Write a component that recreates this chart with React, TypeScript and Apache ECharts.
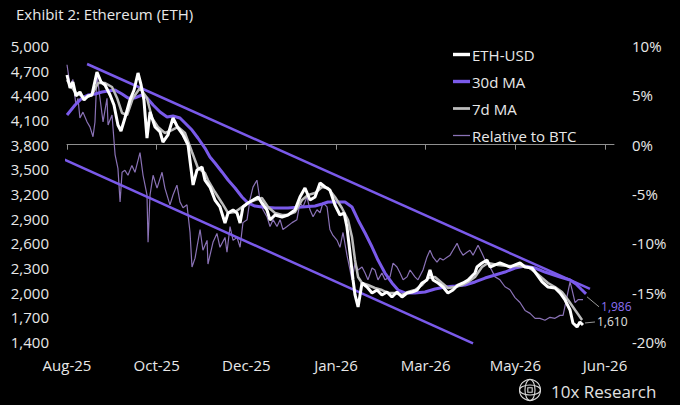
import React, { useEffect, useRef } from "react";
import * as echarts from "echarts";

// ---------- data ----------
const xTickDays = [0, 50, 100, 150, 200, 250, 300];
const xTickLabels = ["Aug-25", "Oct-25", "Dec-25", "Jan-26", "Mar-26", "May-26", "Jun-26"];
const priceTicks = [1400, 1700, 2000, 2300, 2600, 2900, 3200, 3500, 3800, 4100, 4400, 4700, 5000];
const pctTicks = [-20, -15, -10, -5, 0, 5, 10];

// [day since start, USD]
const ethUsd: [number, number][] = [
  [0, 4647], [1.7, 4489], [3.3, 4562], [5, 4392], [7.2, 4441], [9.5, 4343], [11.7, 4392], [13.9, 4404],
  [16.7, 4684], [19, 4562], [21.2, 4526], [24, 4404], [26.2, 4282], [28.4, 4039], [30.1, 3966], [32.3, 4124],
  [35.1, 4343], [37.4, 4465], [39.6, 4672], [41.3, 4526], [42.9, 4343], [44.6, 3881], [46.3, 4197], [49.1, 4015],
  [51.9, 3954], [53.5, 3832], [56.3, 3918], [59.1, 4124], [61.9, 4003], [64.7, 3918], [67.5, 3796], [69.1, 3516],
  [70.3, 3310], [72.5, 3492], [75.3, 3528], [76.9, 3370], [79.7, 3285], [82.5, 3127], [85.3, 3042], [88.1, 2847],
  [89.8, 2969], [92.6, 3005], [94.8, 2969], [96.5, 2847], [98.1, 3042], [100.9, 3091], [103.7, 3127], [106.5, 3164],
  [108.7, 3091], [111.5, 3005], [113.2, 2884], [116, 2945], [119.9, 2920], [123.2, 2945], [127.1, 3005], [129.9, 3164],
  [132.7, 3273], [135.5, 3127], [138.3, 3164], [141.1, 3334], [143.9, 3285], [146.6, 3249], [149.4, 3066], [152.2, 2945],
  [154.5, 2969], [156.1, 2799], [157.8, 2482], [159.5, 2154], [160.6, 1972], [162.3, 1826], [164.5, 2118], [167.3, 2069],
  [170.1, 1996], [172.9, 2032], [175.6, 1972], [178.4, 2008], [181.2, 1947], [184, 2008], [186.8, 1947], [189.6, 1996],
  [192.4, 2008], [195.2, 2032], [198, 2118], [200.7, 2154], [202.4, 2276], [204.1, 2154], [206.9, 2118], [209.7, 2069],
  [212.4, 1996], [215.2, 2032], [218, 2093], [220.8, 2118], [223.6, 2154], [227.5, 2239], [228.6, 2312], [231.4, 2361],
  [234.2, 2397], [235.9, 2312], [238.7, 2337], [241.4, 2361], [244.2, 2337], [247, 2312], [249.8, 2337], [252.6, 2361],
  [255.4, 2312], [259.3, 2300], [262.1, 2215], [264.9, 2130], [268.2, 2069], [272.1, 2057], [274.9, 1996], [277.7, 1911],
  [280.5, 1789], [282.1, 1631], [284.4, 1583], [286, 1643], [287.7, 1607],
];

const ma30: [number, number][] = [
  [0, 4161], [4.5, 4282], [8.4, 4368], [11.7, 4404], [15.6, 4416], [19.5, 4441], [22.9, 4453], [26.8, 4465],
  [30.7, 4416], [34, 4368], [37.9, 4368], [41.8, 4404], [44.6, 4368], [48, 4282], [51.9, 4197], [55.8, 4136],
  [59.1, 4149], [63, 4124], [65.8, 4064], [69.7, 3978], [73, 3881], [76.9, 3759], [79.7, 3650], [82.5, 3577],
  [86.4, 3468], [89.8, 3370], [93.7, 3273], [97.6, 3164], [100.9, 3091], [104.8, 3054], [108.7, 3042], [116, 3030],
  [123.2, 3030], [131, 3042], [138.3, 3054], [142.2, 3078], [145.5, 3103], [155, 3103], [158.9, 3042], [162.3, 2884],
  [166.2, 2726], [170.1, 2555], [173.4, 2397], [177.3, 2239], [181.2, 2118], [184.6, 2032], [188.5, 1996], [194, 1996],
  [199.6, 2008], [205.2, 2045], [210.8, 2069], [216.4, 2081], [221.9, 2093], [227.5, 2130], [233.1, 2178], [238.7, 2215],
  [244.2, 2251], [249.8, 2300], [255.4, 2324], [261, 2300], [266.5, 2251], [274.9, 2191], [280.5, 2154], [283.8, 2105],
  [286.6, 2045], [289.4, 1986],
];

const ma7: [number, number][] = [
  [0, 4586], [4.5, 4441], [10, 4368], [13.9, 4404], [17.3, 4550], [21.2, 4550], [25.1, 4501], [27.9, 4368],
  [30.7, 4185], [33.5, 4161], [36.8, 4368], [40.7, 4489], [44.6, 4368], [47.4, 4124], [50.7, 4015], [54.6, 3942],
  [58.5, 3978], [61.9, 4015], [65.8, 3942], [69.7, 3711], [73, 3516], [76.9, 3455], [78.6, 3370], [82.5, 3224],
  [86.4, 3091], [89.8, 2969], [93.7, 2981], [97.6, 3042], [100.9, 3091], [104.8, 3127], [108.7, 3151], [112.1, 3042],
  [116, 2969], [119.9, 2945], [123.2, 2945], [127.1, 2981], [131, 3127], [134.4, 3188], [138.3, 3212], [142.2, 3285],
  [145.5, 3273], [149.4, 3164], [153.3, 3030], [156.7, 2884], [158.9, 2677], [160.6, 2397], [162.3, 2191], [164.5, 2118],
  [167.8, 2093], [171.7, 2057], [175.6, 2032], [179, 1996], [182.9, 1996], [186.8, 1972], [190.1, 2008], [194, 2032],
  [198, 2093], [201.3, 2178], [205.2, 2191], [209.1, 2118], [212.4, 2057], [216.4, 2069], [220.3, 2093], [223.6, 2130],
  [227.5, 2191], [231.4, 2312], [234.7, 2361], [240.3, 2337], [245.9, 2324], [251.5, 2324], [257.1, 2312], [261, 2251],
  [264.9, 2178], [268.2, 2118], [272.1, 2069], [276, 2008], [279.4, 1911], [283.3, 1789], [287.2, 1668],
];

// relative performance vs BTC, %
const relBtc: [number, number][] = [
  [0, 8.1], [1.7, 6.0], [3.3, 6.6], [5, 4.0], [6.1, 4.7], [7.2, 2.7], [8.9, 3.3], [11.2, 2.3], [12.8, 1.8],
  [14.5, 0.8], [15.6, 2.3], [16.7, 7.1], [18.4, 4.7], [20.1, 2.3], [22.3, 4.7], [22.9, 2.0], [25.1, 3.0], [26.8, -1.0],
  [28.4, -2.4], [29.6, -5.8], [30.7, -2.8], [32.3, -2.6], [34, -3.1], [36.2, -2.1], [37.9, -2.8], [40.7, -0.8],
  [42.4, -3.1], [44.6, -5.1], [45.2, -9.9], [46.3, -5.1], [48, -3.1], [50.2, -4.4], [53, -2.8], [54.6, -4.4],
  [57.4, -6.1], [59.1, -5.1], [61.3, -4.1], [63, -5.8], [64.7, -6.4], [66.9, -6.1], [68.6, -8.9], [69.7, -12.4],
  [71.4, -11.5], [74.2, -8.6], [75.8, -10.7], [78.1, -9.7], [78.6, -12.1], [81.4, -9.9], [83.6, -9.0], [85.3, -10.4],
  [88.1, -9.4], [89.2, -10.9], [90.9, -8.3], [92.6, -9.7], [94.8, -9.4], [96.5, -10.4], [98.1, -7.9], [100.4, -7.6],
  [102, -5.6], [103.7, -4.3], [105.9, -3.6], [107.6, -5.6], [109.3, -6.6], [111.5, -7.3], [113.2, -8.3], [114.9, -7.6],
  [117.1, -8.3], [118.8, -7.6], [120.4, -8.6], [122.7, -8.3], [125.5, -7.9], [128.2, -7.6], [129.9, -5.9], [131.6, -6.3],
  [133.8, -5.3], [135.5, -6.6], [137.2, -7.3], [139.4, -6.6], [141.1, -6.9], [142.7, -5.9], [145, -6.3], [146.6, -8.6],
  [148.3, -9.2], [150.6, -9.7], [152.2, -10.4], [153.9, -8.9], [156.1, -11.2], [157.8, -12.7], [158.9, -13.7], [160.6, -12.0],
  [162.3, -12.7], [164.5, -12.4], [166.2, -13.0], [167.8, -13.7], [170.1, -12.5], [171.7, -12.7], [173.4, -13.7], [175.6, -13.0],
  [177.3, -13.7], [180.1, -13.4], [181.8, -12.0], [184, -12.4], [185.7, -13.0], [187.4, -13.7], [189.6, -13.4], [191.3, -12.7],
  [194, -13.4], [195.7, -13.7], [198.5, -12.7], [200.7, -11.4], [202.4, -10.7], [204.1, -11.4], [206.3, -11.9], [208, -11.5],
  [209.7, -11.7], [211.9, -11.4], [213.6, -11.2], [215.2, -10.7], [217.5, -10.0], [219.1, -10.7], [220.8, -11.2], [223, -10.9],
  [224.7, -10.7], [226.4, -11.2], [229.2, -10.2], [231.4, -11.0], [233.1, -11.7], [235.9, -12.4], [238.7, -13.4], [241.4, -13.7],
  [244.2, -14.4], [247, -14.7], [249.8, -15.5], [252.6, -16.0], [255.4, -16.8], [258.2, -17.1], [261, -17.6], [263.7, -17.6],
  [266.5, -17.8], [269.3, -17.5], [272.1, -17.6], [274.9, -17.3], [276.6, -17.3], [278.8, -15.4], [280.5, -13.9], [281.6, -14.7],
  [283.3, -16.0], [285, -15.7], [287.7, -15.7],
];

const upperChannel: [number, number][] = [[11.2, 4781], [291.6, 2045]];
const lowerChannel: [number, number][] = [[-2.2, 3626], [226.4, 1382]];
const endLabels = ["1,986", "1,610"];

const FONT = '"Open Sans", "Noto Sans", sans-serif';
const PURPLE = "#7a5aea";
const TEXT = "#e8e8e8";

export default function App() {
  const ref = useRef<HTMLDivElement>(null);

  useEffect(() => {
    if (!ref.current) return;
    const chart = echarts.init(ref.current, null, { renderer: "svg" });

    const line = (name: string, data: [number, number][], color: string, width: number, extra: any = {}) => ({
      name,
      type: "line",
      data,
      showSymbol: false,
      symbol: "none",
      lineStyle: { color, width },
      itemStyle: { color },
      emphasis: { disabled: true },
      ...extra,
    });

    chart.setOption({
      animation: false,
      backgroundColor: "#000000",
      textStyle: { fontFamily: FONT },
      title: {
        text: "Exhibit 2: Ethereum (ETH)",
        left: 11,
        top: 1,
        textStyle: { color: TEXT, fontSize: 15, fontWeight: "normal", fontFamily: FONT },
      },
      legend: {
        data: [
          { name: "ETH-USD", icon: "path://M0,0H16V3.2H0Z" },
          { name: "30d MA", icon: "path://M0,0H16V3.2H0Z" },
          { name: "7d MA", icon: "path://M0,0H16V2.6H0Z" },
          { name: "Relative to BTC", icon: "path://M0,0H16V1.2H0Z" },
        ],
        orient: "vertical",
        left: 453,
        top: 47,
        padding: 0,
        itemWidth: 17,
        itemHeight: 14,
        itemGap: 12,
        textStyle: { color: TEXT, fontSize: 15, fontFamily: FONT, padding: [0, 0, 0, -3] },
        selectedMode: false,
      },
      grid: { left: 67, right: 66, top: 46, bottom: 63 },
      xAxis: {
        type: "value",
        min: 0,
        max: 305,
        axisLine: { show: true, lineStyle: { color: "#8f8f8f", width: 1 } },
        axisTick: { show: true, length: 5, lineStyle: { color: "#8f8f8f" }, customValues: xTickDays },
        axisLabel: {
          customValues: xTickDays,
          color: TEXT,
          fontSize: 15,
          margin: 15,
          fontFamily: FONT,
          formatter: (v: number) => {
            const i = xTickDays.indexOf(Math.round(v));
            return i >= 0 ? xTickLabels[i] : "";
          },
        },
        splitLine: { show: false },
      },
      yAxis: [
        {
          type: "value",
          min: 1400,
          max: 5000,
          axisLine: { show: false },
          axisTick: { show: false },
          splitLine: { show: false },
          axisLabel: {
            customValues: priceTicks,
            color: TEXT,
            fontSize: 15,
            margin: 18,
            fontFamily: FONT,
            formatter: (v: number) => v.toLocaleString("en-US"),
          },
        },
        {
          type: "value",
          min: -20,
          max: 10,
          position: "right",
          axisLine: { show: false },
          axisTick: { show: false },
          splitLine: { show: false },
          axisLabel: {
            customValues: pctTicks,
            color: TEXT,
            fontSize: 15,
            margin: 18,
            fontFamily: FONT,
            formatter: (v: number) => `${v}%`,
          },
        },
      ],
      series: [
        line("Relative to BTC", relBtc, "#8a72b6", 1.2, { yAxisIndex: 1, z: 2 }),
        line("Upper channel", upperChannel, PURPLE, 2.5, { z: 3, clip: false }),
        line("Lower channel", lowerChannel, PURPLE, 2.5, { z: 3, clip: false }),
        line("30d MA", ma30, PURPLE, 3, { z: 4 }),
        line("7d MA", ma7, "#bcbcbc", 2.5, { z: 5 }),
        line("ETH-USD", ethUsd, "#ffffff", 3, { z: 6 }),
      ],
    });

    const last30 = ma30[ma30.length - 1];
    const lastEth = ethUsd[ethUsd.length - 1];
    const p30 = chart.convertToPixel({ xAxisIndex: 0, yAxisIndex: 0 }, last30) as number[];
    const pEth = chart.convertToPixel({ xAxisIndex: 0, yAxisIndex: 0 }, lastEth) as number[];

    const logoX = 530;
    const logoY = 390;
    const logoStroke = { stroke: "#d8d8d8", fill: "none", lineWidth: 1.1 };

    chart.setOption({
      graphic: [
        {
          type: "line",
          shape: { x1: p30[0] + 1, y1: p30[1] + 3, x2: p30[0] + 13, y2: p30[1] + 13 },
          style: { stroke: "#9a9a9a", lineWidth: 1 },
        },
        {
          type: "text",
          x: p30[0] + 15,
          y: p30[1] + 13,
          style: { text: endLabels[0], fill: "#8b6ff2", font: `12px ${FONT}`, align: "left", verticalAlign: "middle" },
        },
        {
          type: "line",
          shape: { x1: pEth[0] + 2, y1: pEth[1] - 2, x2: pEth[0] + 12, y2: pEth[1] - 3 },
          style: { stroke: "#9a9a9a", lineWidth: 1 },
        },
        {
          type: "text",
          x: pEth[0] + 14,
          y: pEth[1] - 3,
          style: { text: endLabels[1], fill: "#e0e0e0", font: `12px ${FONT}`, align: "left", verticalAlign: "middle" },
        },
        {
          type: "group",
          x: logoX,
          y: logoY,
          children: [
            { type: "circle", shape: { cx: 0, cy: 0, r: 10.5 }, style: logoStroke },
            { type: "ellipse", shape: { cx: 0, cy: 0, rx: 10.5, ry: 5 }, style: logoStroke },
            { type: "ellipse", shape: { cx: 0, cy: 0, rx: 5, ry: 10.5 }, style: logoStroke },
            { type: "rect", shape: { x: -2.2, y: -2.2, width: 4.4, height: 4.4 }, style: logoStroke },
          ],
        },
        {
          type: "text",
          x: 551,
          y: 391,
          style: { text: "10x Research", fill: "#e2e2e2", font: `17px ${FONT}`, align: "left", verticalAlign: "middle" },
        },
      ],
    });

    return () => chart.dispose();
  }, []);

  return (
    <div
      ref={ref}
      style={{ position: "fixed", left: 0, top: 0, width: 680, height: 405, background: "#000" }}
    />
  );
}
